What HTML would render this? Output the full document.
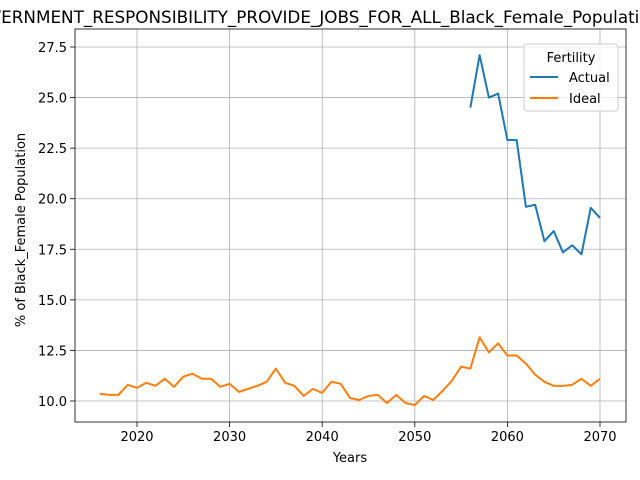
<!DOCTYPE html>
<html><head><meta charset="utf-8"><style>
body{margin:0;background:#fff;}
svg{display:block;font-family:"DejaVu Sans","Liberation Sans",sans-serif;}
</style></head><body>
<svg id="chart" width="640" height="480"></svg>
<script>
const years = [];
for (let y = 2016; y <= 2070; y++) years.push(y);
const ideal = [10.35,10.3,10.3,10.8,10.65,10.9,10.75,11.1,10.7,11.2,11.35,11.1,11.1,10.7,10.85,10.45,10.6,10.75,10.95,11.6,10.9,10.75,10.25,10.6,10.4,10.95,10.85,10.15,10.05,10.25,10.3,9.9,10.3,9.9,9.8,10.25,10.05,10.5,11.0,11.7,11.6,13.15,12.4,12.85,12.25,12.25,11.85,11.3,10.95,10.75,10.75,10.8,11.1,10.75,11.1];
const actualYears = [2056,2057,2058,2059,2060,2061,2062,2063,2064,2065,2066,2067,2068,2069,2070];
const actual = [24.5,27.1,25.0,25.2,22.9,22.9,19.6,19.7,17.9,18.4,17.35,17.7,17.25,19.55,19.05];
const xTicks = [2020,2030,2040,2050,2060,2070];
const yTicks = [10.0,12.5,15.0,17.5,20.0,22.5,25.0,27.5];

const L=75,R=626,T=29,B=422;
const sx = v => 137 + (v-2020)*(600-137)/50;
const sy = v => 401 - (v-10)*(401-47)/17.5;
const svg = document.getElementById('chart');
const NS='http://www.w3.org/2000/svg';
function mk(tag, attrs, parent){const e=document.createElementNS(NS,tag);for(const k in attrs)e.setAttribute(k,attrs[k]);(parent||svg).appendChild(e);return e;}

const grid = mk('g',{});


xTicks.forEach(t=>{
  mk('line',{x1:sx(t),x2:sx(t),y1:T,y2:B,stroke:'#b0b0b0','stroke-width':0.8},grid);
  mk('line',{x1:sx(t),x2:sx(t),y1:B,y2:B+5,stroke:'#000','stroke-width':0.8});
  const tx=mk('text',{x:sx(t),y:B+19,'font-size':13,'text-anchor':'middle'});
  tx.textContent=t;
  
  
});
yTicks.forEach(t=>{
  mk('line',{x1:L,x2:R,y1:sy(t),y2:sy(t),stroke:'#b0b0b0','stroke-width':0.8},grid);
  mk('line',{x1:L-5,x2:L,y1:sy(t),y2:sy(t),stroke:'#000','stroke-width':0.8});
  const tx=mk('text',{x:L-8,y:sy(t)+5,'font-size':13,'text-anchor':'end'});
  tx.textContent=t.toFixed(1);
  
  
});

const p1=mk('polyline',{points:actualYears.map((y,i)=>sx(y)+','+sy(actual[i])).join(' '),fill:'none',stroke:'#1f77b4','stroke-width':2,'stroke-linejoin':'round'});


const p2=mk('polyline',{points:years.map((y,i)=>sx(y)+','+sy(ideal[i])).join(' '),fill:'none',stroke:'#ff7f0e','stroke-width':2,'stroke-linejoin':'round'});



const frame=mk('rect',{x:L,y:T,width:R-L,height:B-T,fill:'none',stroke:'#000','stroke-width':0.8});



const title=mk('text',{x:312,y:23,'font-size':16.8,'text-anchor':'middle'});
title.textContent='GOVERNMENT_RESPONSIBILITY_PROVIDE_JOBS_FOR_ALL_Black_Female_Population';


const xl=mk('text',{x:350,y:462,'font-size':13,'text-anchor':'middle'});
xl.textContent='Years';


const yl=mk('text',{x:0,y:0,'font-size':13,'text-anchor':'middle',transform:'translate(25,230) rotate(-90)'});
yl.textContent='% of Black_Female Population';



const lg=mk('g',{});


mk('rect',{x:524,y:44,width:94,height:67,rx:3,fill:'#fff','fill-opacity':0.8,stroke:'#ccc'},lg);
const lt=mk('text',{x:571,y:62,'font-size':13,'text-anchor':'middle'},lg);
lt.textContent='Fertility';
[['Actual','#1f77b4',77],['Ideal','#ff7f0e',98]].forEach(([n,c,y])=>{
  const g=mk('g',{},lg);
  
  
  mk('line',{x1:530,x2:558,y1:y,y2:y,stroke:c,'stroke-width':2},g);
  const t=mk('text',{x:569,y:y+5,'font-size':13},g);
  t.textContent=n;
});
</script>
</body></html>
